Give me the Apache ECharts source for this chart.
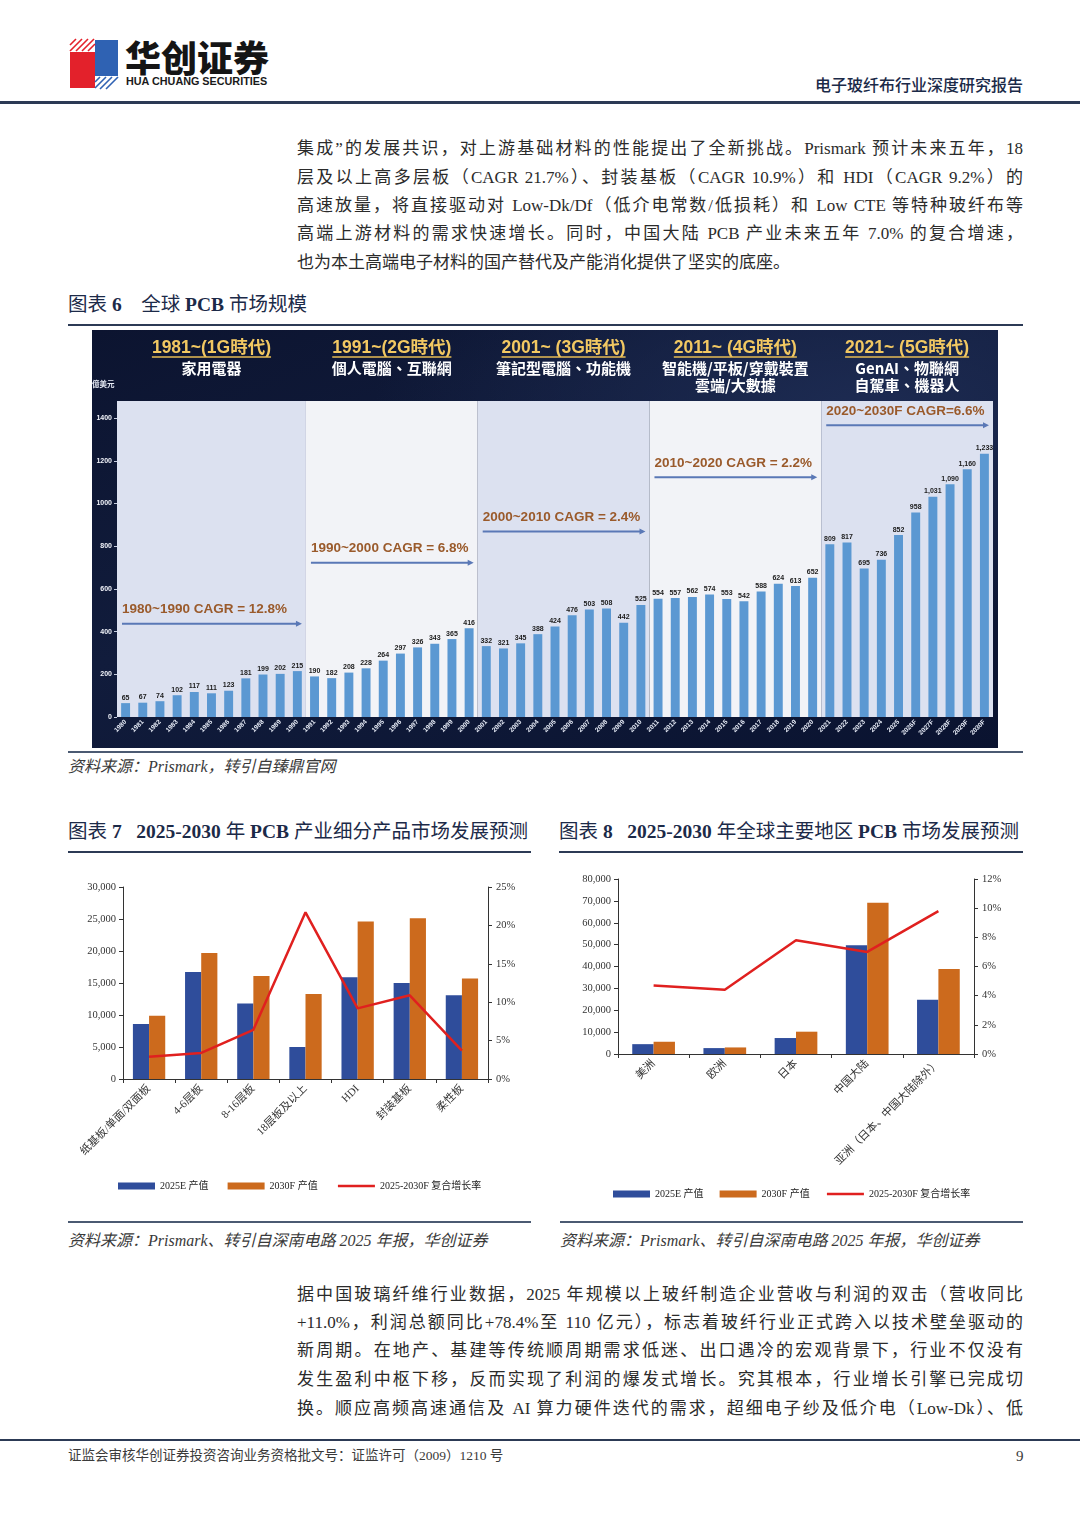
<!DOCTYPE html>
<html><head><meta charset="utf-8">
<script src="https://cdn.jsdelivr.net/npm/echarts@6/dist/echarts.min.js"></script>
<style>
body{margin:0;background:#fff;}
#page{position:relative;width:1080px;height:1527px;overflow:hidden;font-family:"Liberation Serif","Noto Sans CJK SC",serif;color:#333;background:#fff;}
.abs{position:absolute;white-space:nowrap;}
.hl{position:absolute;background:#2c3a55;}
.pl{position:absolute;left:297px;width:726px;height:28px;line-height:28px;font-size:17px;text-align:justify;text-align-last:justify;color:#2b2b2b;}
.pl.last{text-align-last:left;}
.cap{position:absolute;font-size:19.5px;color:#1c2a48;line-height:26px;white-space:nowrap;}
.cap b{font-family:"Liberation Serif",serif;font-weight:bold;}
.src{position:absolute;font-size:16px;font-style:italic;color:#3a3a3a;line-height:20px;white-space:nowrap;}
#c6wrap{position:absolute;left:92px;top:330px;width:906px;height:418px;background:radial-gradient(ellipse at 85% 20%, #1d2b52 0%, rgba(20,30,60,0) 45%),linear-gradient(160deg,#0c1430 0%,#111c3c 45%,#0a1330 100%);}
</style></head>
<body><div id="page">
<!-- header -->
<svg class="abs" style="left:68px;top:36px" width="54" height="56" viewBox="0 0 54 56">
  <polygon points="2,16 27,16 27,52 2,52" fill="#e3212b"/>
  <polygon points="27,4 50,4 50,40 27,40" fill="#2f62b3"/>
  <g stroke="#e3212b" stroke-width="1.6">
    <line x1="14" y1="3" x2="2" y2="15"/><line x1="20" y1="3" x2="8" y2="15"/><line x1="26" y1="3" x2="14" y2="15"/><line x1="27" y1="8" x2="20" y2="15"/><line x1="8" y1="3" x2="2" y2="9"/>
  </g>
  <g stroke="#2f62b3" stroke-width="1.6">
    <line x1="50" y1="41" x2="38" y2="53"/><line x1="44" y1="41" x2="32" y2="53"/><line x1="38" y1="41" x2="27" y2="52"/><line x1="32" y1="41" x2="27" y2="46"/>
  </g>
</svg>
<div class="abs" style="left:125px;top:35px;font-family:'Noto Sans CJK SC';font-weight:900;font-size:36px;line-height:42px;color:#151515;">华创证券</div>
<div class="abs" style="left:126px;top:74px;font-family:'Liberation Sans',Arial;font-weight:bold;font-size:10.8px;line-height:14px;color:#1a1a1a">HUA CHUANG SECURITIES</div>
<div class="abs" style="right:57px;top:73px;font-family:'Noto Sans CJK SC';font-weight:500;font-size:16px;line-height:22px;color:#1b2a48">电子玻纤布行业深度研究报告</div>
<div class="hl" style="left:0;top:101px;width:1080px;height:2.5px;"></div>

<!-- paragraph 1 -->
<div class="pl" style="top:135px">集成”的发展共识，对上游基础材料的性能提出了全新挑战。Prismark 预计未来五年，18</div>
<div class="pl" style="top:164px">层及以上高多层板（CAGR 21.7%）、封装基板（CAGR 10.9%）和 HDI（CAGR 9.2%）的</div>
<div class="pl" style="top:192px">高速放量，将直接驱动对 Low-Dk/Df（低介电常数/低损耗）和 Low CTE 等特种玻纤布等</div>
<div class="pl" style="top:220px">高端上游材料的需求快速增长。同时，中国大陆 PCB 产业未来五年 7.0% 的复合增速，</div>
<div class="pl last" style="top:249px">也为本土高端电子材料的国产替代及产能消化提供了坚实的底座。</div>

<div class="cap" style="left:68px;top:292px">图表 <b>6</b>&nbsp;&nbsp;&nbsp;&nbsp;全球 <b>PCB</b> 市场规模</div>
<div class="hl" style="left:68px;top:324px;width:955px;height:2px;"></div>
<div id="c6wrap"><div id="c6" style="width:906px;height:418px"></div></div>
<div class="hl" style="left:68px;top:751px;width:955px;height:1.5px;background:#4b5a72"></div>
<div class="src" style="left:68px;top:757px">资料来源：Prismark，转引自臻鼎官网</div>

<div class="cap" style="left:68px;top:819px">图表 <b>7</b>&nbsp;&nbsp;&nbsp;<b>2025-2030</b> 年 <b>PCB</b> 产业细分产品市场发展预测</div>
<div class="cap" style="left:559px;top:819px">图表 <b>8</b>&nbsp;&nbsp;&nbsp;<b>2025-2030</b> 年全球主要地区 <b>PCB</b> 市场发展预测</div>
<div class="hl" style="left:68px;top:851px;width:463px;height:2px;"></div>
<div class="hl" style="left:559px;top:851px;width:464px;height:2px;"></div>
<div id="c7" class="abs" style="left:68px;top:856px;width:463px;height:362px"></div>
<div id="c8" class="abs" style="left:560px;top:856px;width:463px;height:362px"></div>
<div class="hl" style="left:68px;top:1221px;width:463px;height:1.5px;background:#4b5a72"></div>
<div class="hl" style="left:560px;top:1221px;width:463px;height:1.5px;background:#4b5a72"></div>
<div class="src" style="left:68px;top:1231px">资料来源：Prismark、转引自深南电路 2025 年报，华创证券</div>
<div class="src" style="left:560px;top:1231px">资料来源：Prismark、转引自深南电路 2025 年报，华创证券</div>

<!-- paragraph 2 -->
<div class="pl" style="top:1281px">据中国玻璃纤维行业数据，2025 年规模以上玻纤制造企业营收与利润的双击（营收同比</div>
<div class="pl" style="top:1309px">+11.0%，利润总额同比+78.4%至 110 亿元），标志着玻纤行业正式跨入以技术壁垒驱动的</div>
<div class="pl" style="top:1337px">新周期。在地产、基建等传统顺周期需求低迷、出口遇冷的宏观背景下，行业不仅没有</div>
<div class="pl" style="top:1366px">发生盈利中枢下移，反而实现了利润的爆发式增长。究其根本，行业增长引擎已完成切</div>
<div class="pl" style="top:1395px">换。顺应高频高速通信及 AI 算力硬件迭代的需求，超细电子纱及低介电（Low-Dk）、低</div>

<div class="hl" style="left:0;top:1439px;width:1080px;height:2px;"></div>
<div class="abs" style="left:68px;top:1447px;font-size:13.5px;line-height:18px;color:#3a3a3a">证监会审核华创证券投资咨询业务资格批文号：证监许可（2009）1210 号</div>
<div class="abs" style="left:1016px;top:1446px;font-size:15px;line-height:20px;color:#3a3a3a">9</div>
</div>

<script>
// ---------- Chart 6 data ----------
const years = ['1980','1981','1982','1983','1984','1985','1986','1987','1988','1989','1990',
  '1991','1992','1993','1994','1995','1996','1997','1998','1999','2000',
  '2001','2002','2003','2004','2005','2006','2007','2008','2009','2010',
  '2011','2012','2013','2014','2015','2016','2017','2018','2019','2020',
  '2021','2022','2023','2024','2025','2026F','2027F','2028F','2029F','2030F'];
const pcbMarket = [65,67,74,102,117,111,123,181,199,202,215,
  190,182,208,228,264,297,326,343,365,416,
  332,321,345,388,424,476,503,508,442,525,
  554,557,562,574,553,542,588,624,613,652,
  809,817,695,736,852,958,1031,1090,1160,1233];
const eraStartYear = ['1980','1991','2001','2011','2021'];
const eraEndYear = ['1990','2000','2010','2020','2030F'];
const eraTitles = ['1981~(1G時代)','1991~(2G時代)','2001~ (3G時代)','2011~ (4G時代)','2021~ (5G時代)'];
const eraApps = [['家用電器'],['個人電腦、互聯網'],['筆記型電腦、功能機'],['智能機/平板/穿戴裝置','雲端/大數據'],['GenAI、物聯網','自駕車、機器人']];
const cagrLabels = ['1980~1990 CAGR = 12.8%','1990~2000 CAGR = 6.8%','2000~2010 CAGR = 2.4%','2010~2020 CAGR = 2.2%','2020~2030F CAGR=6.6%'];
const yTicks6 = [0,200,400,600,800,1000,1200,1400];

// ---------- Chart 7 data ----------
const segCats = ['纸基板/单面/双面板','4-6层板','8-16层板','18层板及以上','HDI','封装基板','柔性板'];
const seg2025 = [8600,16700,11800,5000,15900,15000,13100];
const seg2030 = [9900,19700,16100,13300,24600,25100,15700];
const segCagr = [2.9,3.4,6.4,21.7,9.2,10.9,3.7];

// ---------- Chart 8 data ----------
const regionCats = ['美洲','欧洲','日本','中国大陆','亚洲（日本、中国大陆除外）'];
const reg2025 = [4500,2700,7300,49700,24800];
const reg2030 = [5600,3000,10200,69200,38900];
const regCagr = [4.7,4.4,7.8,7.0,9.8];

const seriesNames = ['2025E 产值','2030F 产值','2025-2030F 复合增长率'];

// ---------- layout (annotation arrow heights in value units) ----------
const arrowLevel = [437, 723, 869, 1123, 1367];

const measure = (() => { const c = document.createElement('canvas').getContext('2d');
  return (t, f) => { c.font = f; return c.measureText(t).width; }; })();
const titleFont = 'bold 17.5px "Liberation Sans", Arial, "Noto Sans CJK TC"';
const appFont = 'bold 15px "Noto Sans CJK TC", sans-serif';
const cagrFont = 'bold 13.5px "Liberation Sans", Arial, sans-serif';
const fmt = v => Number(v).toLocaleString('en-US');

const c6 = echarts.init(document.getElementById('c6'), null, {renderer:'canvas'});
c6.setOption({
  animation:false,
  backgroundColor:'transparent',
  grid:{left:25, right:5, top:71, bottom:31},
  graphic:[{type:'text', left:0, top:50, style:{text:'億美元', fill:'#e9edf7', font:'bold 7.5px "Noto Sans CJK TC"'}}],
  xAxis:{type:'category', data:years, axisLine:{show:false}, axisTick:{show:false},
    axisLabel:{interval:0, rotate:45, color:'#e6ebf6', fontSize:6.5, fontWeight:'bold', fontFamily:'Liberation Sans', margin:4}},
  yAxis:{type:'value', min:0, max:1480, interval:200, splitLine:{show:false},
    axisLine:{show:false}, axisTick:{show:true, length:3, lineStyle:{color:'#c8cfe0'}, customValues: yTicks6},
    axisLabel:{color:'#f2f4fa', fontSize:7, fontWeight:'bold', fontFamily:'Liberation Sans', margin:5,
      customValues: yTicks6, formatter: v => String(v)}},
  series:[
    {type:'custom', z:1, silent:true, clip:false,
      data: eraStartYear.map((s,i)=>[years.indexOf(s), years.indexOf(eraEndYear[i]), i]),
      encode:{x:[0,1]},
      renderItem(params, api){
        const cs = params.coordSys;
        const bw = api.size([1,0])[0];
        const s = api.coord([api.value(0), 0]);
        const e = api.coord([api.value(1), 0]);
        const x0 = s[0]-bw/2, x1 = e[0]+bw/2, i = api.value(2), cx = (x0+x1)/2;
        const tw = measure(eraTitles[i], titleFont);
        const ch = [
          {type:'rect', shape:{x:x0, y:cs.y, width:x1-x0, height:cs.height}, style:{fill: i%2===0 ? '#dce1f0' : '#f2f3f7'}},
          {type:'text', x:cx, y:18, style:{text:eraTitles[i], fill:'#f2c862', font:titleFont, align:'center', verticalAlign:'middle'}},
          {type:'line', shape:{x1:cx-tw/2, y1:27, x2:cx+tw/2, y2:27}, style:{stroke:'#e6bb55', lineWidth:1.5}}
        ];
        eraApps[i].forEach((t,k)=>ch.push({type:'text', x:cx, y:38+k*17, style:{text:t, fill:'#ffffff', font:appFont, align:'center', verticalAlign:'middle'}}));
        return {type:'group', children:ch};
      }},
    {type:'bar', z:3, data:pcbMarket, barWidth:'52%', itemStyle:{color:'#5b98d2'},
      label:{show:true, position:'top', distance:2, color:'#1b1b1b', fontSize:7, fontWeight:'bold', fontFamily:'Liberation Sans', formatter:p=>fmt(p.value)}},
    {type:'custom', z:4, silent:true, clip:false,
      data: cagrLabels.map((t,i)=>[years.indexOf(eraStartYear[i]), years.indexOf(eraEndYear[i]), arrowLevel[i], i]),
      encode:{x:[0,1], y:2},
      renderItem(params, api){
        const bw = api.size([1,0])[0];
        const s = api.coord([api.value(0), api.value(2)]);
        const e = api.coord([api.value(1), api.value(2)]);
        const x0 = s[0]-bw/2+5, x1 = e[0]+bw/2-4, y = s[1];
        return {type:'group', children:[
          {type:'line', shape:{x1:x0, y1:y, x2:x1-3, y2:y}, style:{stroke:'#5a78b6', lineWidth:2}},
          {type:'polygon', shape:{points:[[x1,y],[x1-6,y-3],[x1-6,y+3]]}, style:{fill:'#5a78b6'}},
          {type:'text', x:x0, y:y-14, style:{text:cagrLabels[api.value(3)], fill:'#9a5a2b', font:cagrFont, align:'left', verticalAlign:'middle'}}
        ]};
      }}
  ]
});

// ---------- combo charts ----------
const serif = '"Liberation Serif","Noto Sans CJK SC",serif';
function combo(cats, a, b, c, cfg){
  return {
    animation:false,
    grid:cfg.grid,
    legend:{left:cfg.legendLeft, top:cfg.legendTop, itemWidth:37, itemHeight:7, itemGap:cfg.legendGap,
      textStyle:{fontFamily:serif, fontSize:10, color:'#222'},
      data:[{name:seriesNames[0], icon:'rect'},{name:seriesNames[1], icon:'rect'},
        {name:seriesNames[2], itemStyle:{color:'rgba(0,0,0,0)', borderColor:'rgba(0,0,0,0)', borderWidth:0},
         lineStyle:{color:'#e0201f', width:2.5}}]},
    xAxis:{type:'category', data:cats,
      axisLine:{lineStyle:{color:'#333', width:1}}, axisTick:{show:true, length:4, lineStyle:{color:'#333'}},
      axisLabel:{interval:0, rotate:45, fontFamily:serif, fontSize:11, color:'#333', margin:8}},
    yAxis:[
      {type:'value', min:0, max:cfg.lmax, interval:cfg.lint, splitLine:{show:false},
        axisLine:{show:true, lineStyle:{color:'#333'}}, axisTick:{show:true, length:4, lineStyle:{color:'#333'}},
        axisLabel:{formatter:v=>fmt(v), fontFamily:serif, fontSize:10.5, color:'#333', margin:7}},
      {type:'value', min:0, max:cfg.rmax, interval:cfg.rint, position:'right', splitLine:{show:false},
        axisLine:{show:true, lineStyle:{color:'#333'}}, axisTick:{show:true, length:4, lineStyle:{color:'#333'}},
        axisLabel:{formatter:'{value}%', fontFamily:serif, fontSize:10.5, color:'#333', margin:8}}
    ],
    series:[
      {name:seriesNames[0], type:'bar', data:a, barGap:'0%', barCategoryGap:cfg.gap, itemStyle:{color:'#2f4d9b'}},
      {name:seriesNames[1], type:'bar', data:b, barGap:'0%', barCategoryGap:cfg.gap, itemStyle:{color:'#cc6a1d'}},
      {name:seriesNames[2], type:'line', yAxisIndex:1, data:c, symbol:'none', z:5,
        lineStyle:{color:'#e0201f', width:2.5}, itemStyle:{color:'#e0201f'}}
    ]
  };
}
echarts.init(document.getElementById('c7')).setOption(combo(segCats, seg2025, seg2030, segCagr,
  {grid:{left:55, right:43, top:31, bottom:139}, lmax:30000, lint:5000, rmax:25, rint:5, gap:'38%',
   legendLeft:45, legendTop:320, legendGap:19}));
echarts.init(document.getElementById('c8')).setOption(combo(regionCats, reg2025, reg2030, regCagr,
  {grid:{left:58, right:49, top:23, bottom:164}, lmax:80000, lint:10000, rmax:12, rint:2, gap:'40%',
   legendLeft:48, legendTop:328, legendGap:16}));
</script>
</body></html>
